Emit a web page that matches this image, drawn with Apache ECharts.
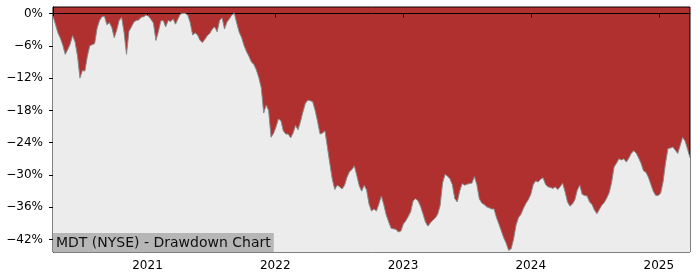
<!DOCTYPE html>
<html>
<head>
<meta charset="utf-8">
<script src="https://cdn.jsdelivr.net/npm/echarts@6/dist/echarts.min.js"></script>
<style>
html,body{margin:0;padding:0;background:#fff;}
#chart{width:700px;height:280px;}
</style>
</head>
<body>
<div id="chart"></div>
<script>
// Weekly sample dates (Mondays)
var dates = [
'2020-04-06','2020-04-13','2020-04-20','2020-04-27','2020-05-04','2020-05-11','2020-05-18','2020-05-25',
'2020-06-01','2020-06-08','2020-06-15','2020-06-22','2020-06-29','2020-07-06','2020-07-13','2020-07-20','2020-07-27',
'2020-08-03','2020-08-10','2020-08-17','2020-08-24','2020-08-31','2020-09-07','2020-09-14','2020-09-21','2020-09-28',
'2020-10-05','2020-10-12','2020-10-19','2020-10-26','2020-11-02','2020-11-09','2020-11-16','2020-11-23','2020-11-30',
'2020-12-07','2020-12-14','2020-12-21','2020-12-28',
'2021-01-04','2021-01-11','2021-01-18','2021-01-25','2021-02-01','2021-02-08','2021-02-15','2021-02-22',
'2021-03-01','2021-03-08','2021-03-15','2021-03-22','2021-03-29','2021-04-05','2021-04-12','2021-04-19','2021-04-26',
'2021-05-03','2021-05-10','2021-05-17','2021-05-24','2021-05-31','2021-06-07','2021-06-14','2021-06-21','2021-06-28',
'2021-07-05','2021-07-12','2021-07-19','2021-07-26','2021-08-02','2021-08-09','2021-08-16','2021-08-23','2021-08-30',
'2021-09-06','2021-09-13','2021-09-20','2021-09-27','2021-10-04','2021-10-11','2021-10-18','2021-10-25',
'2021-11-01','2021-11-08','2021-11-15','2021-11-22','2021-11-29','2021-12-06','2021-12-13','2021-12-20','2021-12-27',
'2022-01-03','2022-01-10','2022-01-17','2022-01-24','2022-01-31','2022-02-07','2022-02-14','2022-02-21','2022-02-28',
'2022-03-07','2022-03-14','2022-03-21','2022-03-28','2022-04-04','2022-04-11','2022-04-18','2022-04-25',
'2022-05-02','2022-05-09','2022-05-16','2022-05-23','2022-05-30','2022-06-06','2022-06-13','2022-06-20','2022-06-27',
'2022-07-04','2022-07-11','2022-07-18','2022-07-25','2022-08-01','2022-08-08','2022-08-15','2022-08-22','2022-08-29',
'2022-09-05','2022-09-12','2022-09-19','2022-09-26','2022-10-03','2022-10-10','2022-10-17','2022-10-24','2022-10-31',
'2022-11-07','2022-11-14','2022-11-21','2022-11-28','2022-12-05','2022-12-12','2022-12-19','2022-12-26',
'2023-01-02','2023-01-09','2023-01-16','2023-01-23','2023-01-30','2023-02-06','2023-02-13','2023-02-20','2023-02-27',
'2023-03-06','2023-03-13','2023-03-20','2023-03-27','2023-04-03','2023-04-10','2023-04-17','2023-04-24',
'2023-05-01','2023-05-08','2023-05-15','2023-05-22','2023-05-29','2023-06-05','2023-06-12','2023-06-19','2023-06-26',
'2023-07-03','2023-07-10','2023-07-17','2023-07-24','2023-07-31','2023-08-07','2023-08-14','2023-08-21','2023-08-28',
'2023-09-04','2023-09-11','2023-09-18','2023-09-25','2023-10-02','2023-10-09','2023-10-16','2023-10-23','2023-10-30',
'2023-11-06','2023-11-13','2023-11-20','2023-11-27','2023-12-04','2023-12-11','2023-12-18','2023-12-25',
'2024-01-01','2024-01-08','2024-01-15','2024-01-22','2024-01-29','2024-02-05','2024-02-12','2024-02-19','2024-02-26',
'2024-03-04','2024-03-11','2024-03-18','2024-03-25','2024-04-01','2024-04-08','2024-04-15','2024-04-22','2024-04-29',
'2024-05-06','2024-05-13','2024-05-20','2024-05-27','2024-06-03','2024-06-10','2024-06-17','2024-06-24',
'2024-07-01','2024-07-08','2024-07-15','2024-07-22','2024-07-29','2024-08-05','2024-08-12','2024-08-19','2024-08-26',
'2024-09-02','2024-09-09','2024-09-16','2024-09-23','2024-09-30','2024-10-07','2024-10-14','2024-10-21','2024-10-28',
'2024-11-04','2024-11-11','2024-11-18','2024-11-25','2024-12-02','2024-12-09','2024-12-16','2024-12-23','2024-12-30',
'2025-01-06','2025-01-13','2025-01-20','2025-01-27','2025-02-03','2025-02-10','2025-02-17','2025-02-24',
'2025-03-03','2025-03-10','2025-03-17','2025-03-24','2025-03-31'
];

// Drawdown in percent
var drawdown = [
-0.5,-2.0,-3.6,-4.6,-5.9,-7.6,-6.7,-5.7,-4.1,-5.3,-7.9,-12.0,-10.6,-10.7,-8.0,-6.0,-5.8,-5.6,-2.7,-1.3,
-0.6,-0.5,-2.1,-1.7,-2.6,-4.5,-3.1,-1.3,-0.7,-3.5,-7.6,-3.3,-2.5,-1.6,-1.3,-1.2,-0.7,-0.6,-0.3,
-0.5,-1.1,-1.8,-5.0,-3.4,-1.4,-1.3,-2.5,-1.3,-1.5,-1.0,-2.0,-1.0,-0.1,0,0,-0.3,-1.7,-4.0,-3.6,-4.0,
-5.0,-5.4,-4.8,-4.1,-3.7,-2.9,-2.5,-3.4,-1.3,-0.8,-2.9,-1.6,-1.0,-0.3,0,-1.8,-3.5,-4.5,-6.0,-7.1,
-8.0,-9.0,-9.5,-10.5,-11.9,-13.8,-18.5,-17.0,-18.0,-23.0,-22.3,
-21.1,-19.6,-19.9,-21.8,-22.4,-22.4,-23.1,-22.2,-20.8,-21.6,-20.1,-18.3,-16.7,-16.1,-16.2,-16.4,-18.0,
-20.1,-22.4,-22.2,-21.8,-24.8,-27.9,-30.8,-32.7,-31.9,-32.2,-32.6,-31.9,-30.4,-29.4,-29.0,-28.3,-30.1,
-32.0,-33.0,-31.9,-32.8,-35.4,-36.7,-36.3,-36.7,-35.4,-33.9,-35.5,-37.4,-38.7,-39.9,-40.0,-40.1,-40.6,-40.4,
-39.1,-38.5,-37.7,-36.8,-34.8,-34.4,-34.8,-35.8,-37.2,-38.7,-39.5,-38.9,-38.4,-38.0,-37.3,-35.7,-31.5,
-29.9,-30.2,-30.7,-31.8,-34.4,-35.0,-33.0,-31.6,-31.9,-31.7,-31.6,-31.5,-30.3,-31.8,-34.4,-35.2,-35.5,
-35.9,-36.1,-36.3,-36.3,-37.9,-39.1,-40.4,-41.7,-42.7,-44.0,-43.7,-41.9,-39.3,-37.9,-37.3,-36.2,-35.3,-34.6,
-33.6,-31.8,-31.1,-31.3,-30.8,-30.5,-31.7,-32.2,-32.3,-32.5,-32.2,-32.7,-32.2,-31.5,-33.1,-35.0,-35.8,
-35.4,-34.6,-32.8,-31.9,-33.6,-33.8,-33.9,-35.0,-35.5,-36.5,-37.2,-36.4,-35.6,-35.1,-34.3,-33.3,-31.4,
-28.5,-27.8,-27.0,-27.2,-27.0,-27.6,-26.9,-26.0,-25.5,-25.9,-26.8,-27.8,-29.2,-29.5,-30.4,-31.7,-33.0,
-33.8,-33.8,
-33.4,-31.3,-27.8,-25.1,-25.0,-24.8,-25.4,-26.0,-24.5,-23.0,-23.7,-25.2,-26.8
];

var yTickValues = [0, -6, -12, -18, -24, -30, -36, -42];
var yTickLabels = ['0%', '\u22126%', '\u221212%', '\u221218%', '\u221224%', '\u221230%', '\u221236%', '\u221242%'];
var xTickDates = ['2021-01-01', '2022-01-01', '2023-01-01', '2024-01-01', '2025-01-01'];
var xTickLabels = ['2021', '2022', '2023', '2024', '2025'];
var titleText = 'MDT (NYSE) - Drawdown Chart';

function toTime(s) {
  var p = s.split('-');
  return Date.UTC(+p[0], +p[1] - 1, +p[2]);
}
var seriesData = dates.map(function (d, i) { return [toTime(d), drawdown[i]]; });
var xTickValues = xTickDates.map(toTime);

var chart = echarts.init(document.getElementById('chart'), null, { renderer: 'canvas' });
chart.setOption({
  animation: false,
  textStyle: { fontFamily: 'DejaVu Sans' },
  title: {
    text: titleText,
    left: 53,
    bottom: 28,
    backgroundColor: '#b6b6b6',
    padding: [2, 3, 1, 3],
    textStyle: { fontFamily: 'DejaVu Sans', fontSize: 14, fontWeight: 'normal', color: '#111', lineHeight: 16 }
  },
  grid: {
    left: 53, right: 10, top: 7, bottom: 28,
    show: true,
    backgroundColor: '#b03030',
    borderColor: '#000',
    borderWidth: 1
  },
  xAxis: {
    type: 'value',
    min: toTime(dates[0]),
    max: toTime(dates[dates.length - 1]),
    splitLine: { show: false },
    axisLine: { show: true, lineStyle: { color: '#000', width: 1 } },
    axisTick: { show: true, length: 4, lineStyle: { color: '#000' }, customValues: xTickValues },
    axisLabel: {
      customValues: xTickValues,
      margin: 8,
      fontSize: 12,
      fontFamily: 'DejaVu Sans',
      color: '#000',
      formatter: function (v) {
        var k = xTickValues.indexOf(v);
        return k >= 0 ? xTickLabels[k] : '';
      }
    }
  },
  yAxis: {
    type: 'value',
    min: -44.3,
    max: 1.2,
    splitLine: { show: false },
    axisLine: { show: true, lineStyle: { color: '#000', width: 1 } },
    axisTick: { show: true, length: 4, lineStyle: { color: '#000' }, customValues: yTickValues },
    axisLabel: {
      customValues: yTickValues,
      margin: 10,
      fontSize: 12,
      fontFamily: 'DejaVu Sans',
      color: '#000',
      formatter: function (v) {
        var k = yTickValues.indexOf(Math.round(v));
        return k >= 0 ? yTickLabels[k] : '';
      }
    }
  },
  series: [{
    type: 'line',
    data: seriesData,
    symbol: 'none',
    lineStyle: { color: '#8a8a8a', width: 1 },
    areaStyle: { color: '#ececec', opacity: 1, origin: 'start' },
    z: 2
  }]
});
</script>
</body>
</html>
